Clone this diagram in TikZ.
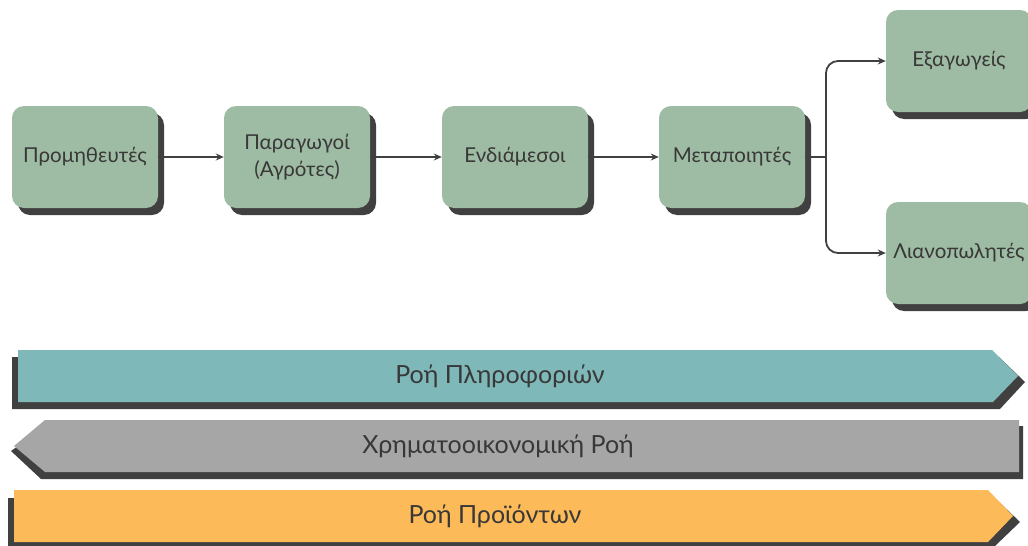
\documentclass[tikz,border=0pt]{standalone}
\usepackage{fontspec}
\setmainfont{Lato}
\usetikzlibrary{shadows,arrows.meta}
\definecolor{boxgreen}{HTML}{9EBBA3}
\definecolor{shadowgray}{HTML}{404040}
\definecolor{txt}{HTML}{383838}
\definecolor{bandteal}{HTML}{7FB8B9}
\definecolor{midgray}{HTML}{A6A6A6}
\definecolor{bandorange}{HTML}{FDBA58}
\tikzset{
  stagebox/.style={rectangle, rounded corners=12pt, fill=boxgreen, minimum width=146pt, minimum height=102pt,
    text=txt, font=\fontsize{20.5}{27}\selectfont, align=center, inner sep=2pt,
    drop shadow={shadow xshift=6pt, shadow yshift=-7pt, fill=shadowgray, opacity=1}},
  conn/.style={draw=shadowgray, line width=1.8pt, -{Stealth[length=8pt,width=7pt]}},
  bandlabel/.style={text=txt, font=\fontsize{25}{28}\selectfont, inner sep=0pt},
}
\begin{document}
\begin{tikzpicture}[x=1pt,y=-1pt]
\useasboundingbox (0,0) rectangle (1028,546);
\clip (0,0) rectangle (1028,546);
% boxes
\node[stagebox] (prom) at (85,157) {Προμηθευτές};
\node[stagebox] (parag) at (297,157) {Παραγωγοί\\(Αγρότες)};
\node[stagebox] (endi) at (515,157) {Ενδιάμεσοι};
\node[stagebox] (meta) at (732,157) {Μεταποιητές};
\node[stagebox] (exag) at (959,61) {Εξαγωγείς};
\node[stagebox] (lian) at (959,253) {Λιανοπωλητές};
% connectors
\draw[conn] (prom.east) -- (parag.west);
\draw[conn] (parag.east) -- (endi.west);
\draw[conn] (endi.east) -- (meta.west);
\coordinate (junc) at (826,157);
\draw[draw=shadowgray, line width=1.8pt] (meta.east) -- (junc);
\draw[conn, rounded corners=12pt] (junc) |- (exag.west);
\draw[conn, rounded corners=12pt] (junc) |- (lian.west);
% band 1
\fill[shadowgray] (12,357) -- (999,357) -- (1025,382) -- (1000,409) -- (12,409) -- cycle;
\fill[bandteal] (18,350) -- (992,350) -- (1018,376) -- (993,402) -- (18,402) -- cycle;
\node[bandlabel] (info) at (500,376) {Ροή Πληροφοριών};
% band 2
\fill[shadowgray] (47,426) -- (1023,426) -- (1023,479) -- (41,479) -- (11,451) -- cycle;
\fill[midgray] (45,420) -- (1019,420) -- (1019,472) -- (45,472) -- (14,446) -- cycle;
\node[bandlabel] (fin) at (498,446) {Χρηματοοικονομική Ροή};
% band 3
\fill[shadowgray] (8,498) -- (995,498) -- (1020,522) -- (995,546) -- (8,546) -- cycle;
\fill[bandorange] (14,490) -- (988,490) -- (1013,516) -- (988,542) -- (14,542) -- cycle;
\node[bandlabel] (prod) at (495,516) {Ροή Προϊόντων};
\end{tikzpicture}
\end{document}
